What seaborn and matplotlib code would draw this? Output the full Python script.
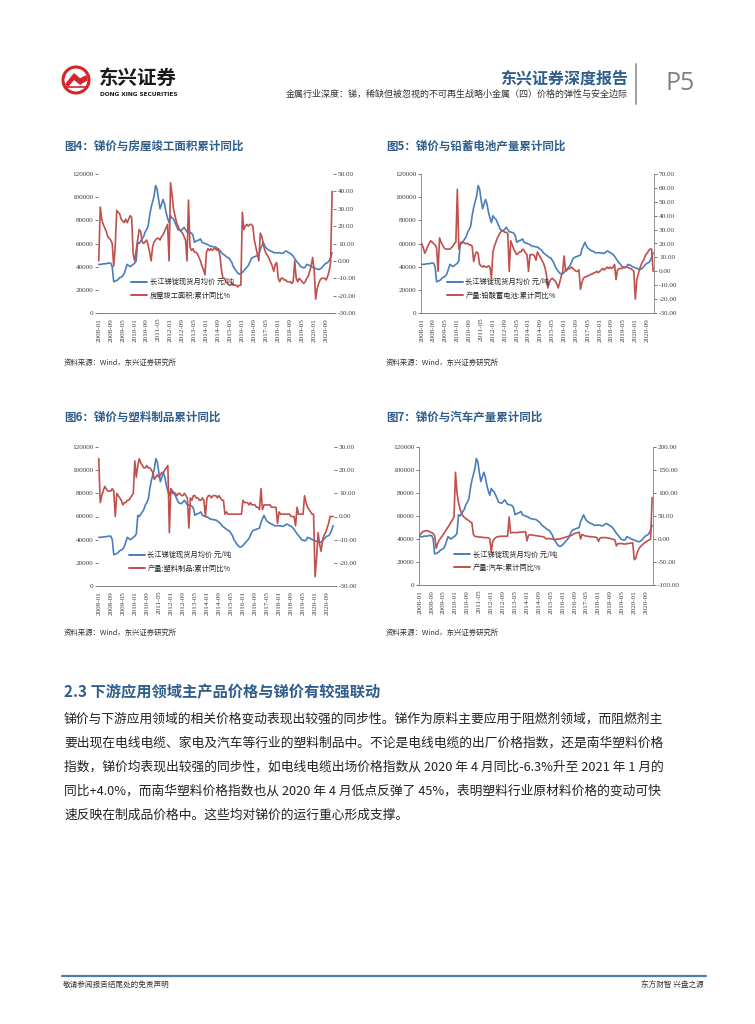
import numpy as np
import pandas as pd
import matplotlib
matplotlib.use("Agg")
import matplotlib.pyplot as plt
import seaborn as sns
from matplotlib.lines import Line2D
from matplotlib.patches import Circle, Polygon
from matplotlib.ticker import FuncFormatter

# monthly data, 2008-01 .. 2021-01
months = pd.date_range("2008-01-01", periods=157, freq="MS").strftime("%Y-%m").tolist()

# 长江锑锭现货月均价 元/吨
price = [42000, 42000, 42000, 42500, 42500, 42500, 43000, 43000, 43000, 40000, 27000, 27500,
         28000, 29000, 30500, 31000, 32000, 34000, 38000, 42000, 41000, 40000, 41000, 42000,
         43000, 45000, 61000, 60000, 62000, 64000, 66000, 70000, 72000, 75000, 84000, 91000,
         96000, 101000, 110000, 107000, 98000, 90000, 94000, 98000, 94000, 87000, 82000, 78000,
         84000, 82000, 81000, 78000, 75000, 72000, 71500, 71000, 72500, 74000, 72000, 70000,
         70000, 69500, 69000, 67000, 61000, 62000, 62500, 63000, 64000, 61000, 60500, 60000,
         59500, 59000, 58000, 57500, 57500, 57000, 57000, 56000, 55000, 54000, 52000, 51000,
         50000, 49000, 48000, 47500, 45500, 43500, 40000, 38000, 36000, 34500, 33500, 34000,
         35000, 36500, 38000, 39500, 41000, 44000, 47000, 48000, 48500, 49000, 49500, 50000,
         55000, 58000, 61000, 58000, 56000, 55000, 54000, 53500, 53000, 52000, 52000, 52000,
         52000, 52000, 51500, 51500, 52500, 53500, 53000, 52000, 51500, 50500, 49000, 47000,
         45000, 43500, 42000, 40000, 39500, 39000, 39500, 42000, 41500, 41000, 40000, 39500,
         39000, 38500, 38000, 37500, 38000, 39000, 40500, 42000, 43000, 43500, 45000, 48000,
         52000]

# 房屋竣工面积:累计同比 %
housing = [0, 31, 24, 21, 19, 17, 14, 13, 12, 10, -3, 8,
           29, 28, 27, 24, 23, 22, 24, 22, 24, 26, 25, 4,
           0, 6, 12, 18, 17, 11, 10, 11, 12, 9, 5, 0,
           8, 11, 12, 13, 13, 12, 14, 15, 17, 19, 21, 0,
           45, 38, 30, 26, 22, 20, 18, 17, 16, 14, 12, 0,
           35, 8, 6, 7, 5, 5, 4, 2, 0, -3, -5, -8,
           5, 7, 6, 7, 6, 7, 7, 6, 7, 3, -5, -10,
           -10, -12, -13, -14, -14, -13, -14, -14, -14, -15, -14, -14,
           28, 18, 20, 21, 20, 21, 21, 20, 12, 8, 4, 0,
           16, 14, 10, 6, 4, 3, 1, -1, -3, -6, -2, -1,
           -10, -12, -10, -10, -11, -11, -12, -12, -12, -13, -12, 0,
           -10, -12, -10, -11, -12, -13, -12, -10, -9, -6, -3, 2,
           -5, -22, -16, -13, -11, -10, -10, -10, -11, -9, -6, -1,
           40]

# 产量:铅酸蓄电池:累计同比 %
battery = [20, 17, 13, 15, 18, 20, 22, 21, 20, 19, 17, 0,
           24, 21, 19, 17, 16, 16, 16, 16, 17, 18, 20, 21,
           59, 16, 19, 21, 21, 20, 20, 20, 19, 19, 18, 7,
           12, 14, 13, 5, 4, 3, 4, 3, 3, 4, 3, -5,
           14, 18, 21, 24, 26, 28, 29, 29, 28, 28, 27, 0,
           22, 19, 16, 14, 12, 13, 14, 14, 16, 15, 13, 12,
           0, 12, 12, 12, 11, 8, 14, 12, 10, 8, 6, 3,
           -2, -12, -8, -6, -5, -6, -7, -9, -12, -8, -4, 0,
           11, 0, 1, 2, 2, 3, 2, 1, 0, 0, 1, -13,
           -8, -5, -4, -4, -3, -3, -2, -2, -1, -1, 0, -1,
           0, 1, 2, 1, 2, 3, 2, 3, 2, 3, 5, -6,
           1, 2, 2, 2, 3, 3, 3, 3, 2, 2, 1, 0,
           -20, -6, -2, 2, 5, 7, 9, 12, 13, 15, 16, 16,
           0]

# 产量:塑料制品:累计同比 %
plastic = [25, 6, 9, 11, 13, 12, 11, 11, 11, 12, 11, 0,
           10, 9, 8, 7, 5, 6, 6, 7, 7, 8, 9, 10,
           24, 17, 22, 25, 23, 22, 21, 21, 22, 21, 21, 20,
           19, 16, 17, 18, 17, 18, 19, 19, 20, 21, 22, -7,
           12, 10, 10, 10, 9, 10, 10, 9, 9, 10, 9, 8,
           -5, 8, 7, 9, 9, 8, 8, 7, 7, 8, 7, 0,
           8, 9, 9, 8, 9, 9, 9, 8, 9, 8, 7, 7,
           1, 2, 1, 1, 1, 1, 1, 1, 1, 1, 1, 1,
           7, 6, 6, 6, 5, 6, 5, 5, 5, 4, 4, 3,
           12, 3, 5, 5, 5, 5, 5, 4, 4, 4, 4, -3,
           2, 1, 1, 1, 1, 1, 1, 1, 0, 0, 0, -4,
           4, 1, 1, 1, 1, 9, 6, 4, 3, 2, 1, 1,
           -26, -18, -7, -12, -15, -10, -8, -7, -5, -3, 0, 0,
           0]

# 产量:汽车:累计同比 %
auto = [8, 12, 16, 17, 18, 18, 17, 15, 14, 12, 7, -20,
        -10, -3, 2, 6, 11, 16, 21, 26, 31, 37, 42, 48,
        145, 100, 80, 66, 56, 50, 47, 44, 42, 40, 37, 35,
        10, 6, 5, 5, 4, 4, 4, 3, 3, 3, 2, 1,
        -28, -5, 0, 3, 5, 5, 6, 6, 6, 6, 6, 6,
        48, 13, 14, 14, 14, 14, 14, 15, 15, 15, 16, 16,
        -4, 8, 9, 9, 8, 8, 7, 7, 6, 6, 5, 5,
        3, 0, 1, 1, 0, 0, -1, -1, -1, 0, 0, 1,
        2, 3, 4, 5, 6, 7, 8, 10, 12, 13, 14, 15,
        0, 10, 8, 7, 6, 6, 5, 5, 5, 4, 4, 3,
        -5, 2, 3, 3, 3, 3, 2, 2, 1, 0, -1, -2,
        -15, -10, -10, -10, -10, -11, -11, -10, -10, -9, -9, -8,
        -45, -42, -30, -22, -17, -14, -11, -8, -6, -4, -2, 0,
        90]

df = pd.DataFrame({"idx": range(len(months)), "price": price, "housing": housing,
                   "battery": battery, "plastic": plastic, "auto": auto})

BLUE = "#4a7ebb"
RED = "#c0504d"
NAVY = "#2f5d8c"
W, H = 755, 1024

sns.set_theme(style="white")
plt.rcParams["font.family"] = ["Noto Sans CJK SC", "DejaVu Sans"]

fig = plt.figure(figsize=(W / 100, H / 100), dpi=100)
bg = fig.add_axes([0, 0, 1, 1])
bg.set_xlim(0, W)
bg.set_ylim(H, 0)
bg.axis("off")


def px(l, t, r, b):
    return [l / W, 1 - b / H, (r - l) / W, (b - t) / H]


def pane(rect, col, lab, lo, hi, step, spines, leg_xy):
    ax = fig.add_axes(px(*rect))
    sns.lineplot(data=df, x="idx", y="price", ax=ax, color=BLUE, lw=1.2, legend=False)
    ax.set_ylim(0, 120000)
    ax.set_yticks(range(0, 120001, 20000))
    ax.yaxis.set_major_formatter(FuncFormatter(lambda v, p: "%d" % v))
    ax.set_xlim(-0.5, len(months) - 0.4)
    ticks = list(range(0, len(months), 8))
    ax.set_xticks(ticks)
    ax.set_xticklabels([months[i] for i in ticks], rotation=90,
                       family="Liberation Serif", fontsize=5.2)
    ax2 = ax.twinx()
    sns.lineplot(data=df, x="idx", y=col, ax=ax2, color=RED, lw=1.2, legend=False)
    ax2.set_ylim(lo, hi)
    ax2.set_yticks(np.arange(lo, hi + 0.1, step))
    ax2.yaxis.set_major_formatter(FuncFormatter(lambda v, p: "%.2f" % v))
    for a in (ax, ax2):
        a.set_xlabel("")
        a.set_ylabel("")
        a.grid(False)
        a.tick_params(length=2, width=0.5, colors="#404040", labelsize=5.2, pad=1.5)
        a.spines["top"].set_visible(False)
        for s in ["left", "right", "bottom"]:
            a.spines[s].set_color("#808080")
            a.spines[s].set_linewidth(0.6)
        for t in a.get_yticklabels():
            t.set_family("Liberation Serif")
    ax.spines["right"].set_visible(False)
    ax2.spines["left"].set_visible(False)
    if not spines:
        ax.spines["left"].set_visible(False)
        ax2.spines["right"].set_visible(False)
    handles = [Line2D([], [], color=BLUE, lw=1.4), Line2D([], [], color=RED, lw=1.4)]
    ax2.legend(handles, ["长江锑锭现货月均价 元/吨", lab], loc="upper left",
               bbox_to_anchor=leg_xy, frameon=False, fontsize=5.2, handlelength=2.2,
               handletextpad=0.4, labelspacing=0.75, borderpad=0, borderaxespad=0)
    return ax


pane((98, 174, 333, 313), "housing", "房屋竣工面积:累计同比%", -30, 50, 10, False, (0.14, 0.25))
pane((421, 174, 654, 313), "battery", "产量:铅酸蓄电池:累计同比%", -30, 70, 10, True, (0.11, 0.25))
pane((98, 447, 334, 586), "plastic", "产量:塑料制品:累计同比%", -30, 30, 10, False, (0.13, 0.25))
pane((419, 447, 653, 585), "auto", "产量:汽车:累计同比%", -100, 200, 50, True, (0.15, 0.25))

# chart titles and sources
titles = ["图4：锑价与房屋竣工面积累计同比", "图5：锑价与铅蓄电池产量累计同比",
          "图6：锑价与塑料制品累计同比", "图7：锑价与汽车产量累计同比"]
pos = [(64, 146), (386, 146), (64, 417), (386, 417)]
for (x, y), t in zip(pos, titles):
    bg.text(x, y, t, fontsize=8.3, fontweight="bold", color=NAVY, va="center", ha="left")
for x, y in [(64, 363), (386, 363), (64, 633), (386, 633)]:
    bg.text(x, y, "资料来源：Wind，东兴证券研究所", fontsize=5.3, color="#333333",
            va="center", ha="left", style="italic")

# header
bg.add_patch(Circle((76, 80), 13, facecolor="white", edgecolor="#d7232a", lw=2.2))
bg.add_patch(Polygon([[66, 84], [74, 74], [80, 79], [86, 76], [87, 80], [80, 84], [74, 79], [68, 86]],
                     closed=True, color="#d7232a"))
bg.plot([66, 87], [87, 87], color="#d7232a", lw=1.2)
bg.text(99, 78, "东兴证券", fontsize=14, fontweight="bold", color="#1a1a1a", va="center", ha="left")
bg.text(100, 94, "DONG XING SECURITIES", fontsize=4.2, fontweight="bold", color="#1a1a1a",
        va="center", ha="left", family="DejaVu Sans")
bg.text(628, 78, "东兴证券深度报告", fontsize=11.5, fontweight="bold", color=NAVY, va="center", ha="right")
bg.text(628, 94, "金属行业深度：锑，稀缺但被忽视的不可再生战略小金属（四）价格的弹性与安全边际",
        fontsize=6.5, color="#333333", va="center", ha="right")
bg.plot([636, 636], [64, 104], color="#999999", lw=1.3)
bg.text(666, 84, "P5", fontsize=18, color="#7f7f7f", va="center", ha="left", family="Open Sans")

# section heading and body text
bg.text(64, 692, "2.3 下游应用领域主产品价格与锑价有较强联动", fontsize=11, fontweight="bold",
        color=NAVY, va="center", ha="left")
body = ["锑价与下游应用领域的相关价格变动表现出较强的同步性。锑作为原料主要应用于阻燃剂领域，而阻燃剂主",
        "要出现在电线电缆、家电及汽车等行业的塑料制品中。不论是电线电缆的出厂价格指数，还是南华塑料价格",
        "指数，锑价均表现出较强的同步性，如电线电缆出场价格指数从 2020 年 4 月同比-6.3%升至 2021 年 1 月的",
        "同比+4.0%，而南华塑料价格指数也从 2020 年 4 月低点反弹了 45%，表明塑料行业原材料价格的变动可快",
        "速反映在制成品价格中。这些均对锑价的运行重心形成支撑。"]
for i, line in enumerate(body):
    bg.text(64, 719 + 24 * i, line, fontsize=9.2, color="#222222", va="center", ha="left")

# footer
bg.plot([62, 706], [976, 976], color="#4f7cb0", lw=1.6)
bg.text(63, 985, "敬请参阅报告结尾处的免责声明", fontsize=5.5, color="#333333", va="center", ha="left")
bg.text(704, 985, "东方财智 兴盘之源", fontsize=5.5, color="#333333", va="center", ha="right")

fig.savefig("out.png", dpi=100)
